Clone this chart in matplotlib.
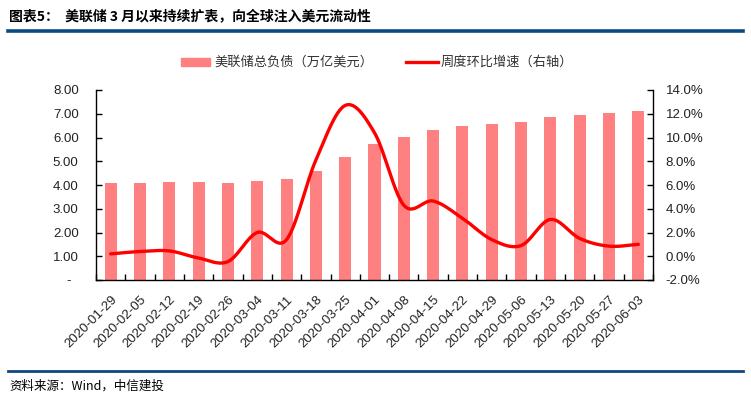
import numpy as np
import matplotlib
matplotlib.use("Agg")
import matplotlib.pyplot as plt
from matplotlib.lines import Line2D
from matplotlib.patches import Rectangle

plt.rcParams['font.family'] = ['Liberation Sans', 'Noto Sans CJK SC', 'DejaVu Sans']

dates = ["2020-01-29", "2020-02-05", "2020-02-12", "2020-02-19", "2020-02-26",
         "2020-03-04", "2020-03-11", "2020-03-18", "2020-03-25", "2020-04-01",
         "2020-04-08", "2020-04-15", "2020-04-22", "2020-04-29", "2020-05-06",
         "2020-05-13", "2020-05-20", "2020-05-27", "2020-06-03"]
total_liab = [4.07, 4.10, 4.12, 4.11, 4.08, 4.17, 4.24, 4.60, 5.19, 5.74,
              6.01, 6.30, 6.50, 6.58, 6.65, 6.86, 6.96, 7.02, 7.10]
wow_growth = [0.2, 0.4, 0.45, -0.15, -0.45, 2.0, 1.4, 8.1, 12.7, 10.4,
              4.3, 4.65, 3.2, 1.4, 0.9, 3.1, 1.5, 0.85, 1.0]
left_ticks = [0, 1, 2, 3, 4, 5, 6, 7, 8]
left_labels = ["-  ", "1.00", "2.00", "3.00", "4.00", "5.00", "6.00", "7.00", "8.00"]
right_ticks = [-2, 0, 2, 4, 6, 8, 10, 12, 14]
right_labels = ["-2.0%", "0.0%", "2.0%", "4.0%", "6.0%", "8.0%", "10.0%", "12.0%", "14.0%"]
title = "图表5：  美联储 3 月以来持续扩表，向全球注入美元流动性"
source = "资料来源：Wind，中信建投"
legend_bar = "美联储总负债（万亿美元）"
legend_line = "周度环比增速（右轴）"

W, H = 751, 403
fig = plt.figure(figsize=(W / 100, H / 100), dpi=100)

def fx(px):
    return px / W

def fy(py):
    return 1 - py / H

bar_color = "#FF8080"
line_color = "#FF0000"
text_color = "#222222"

ax = fig.add_axes([fx(96), fy(280), fx(653) - fx(96), fy(90) - fy(280)])
x = np.arange(len(dates))
ax.bar(x, total_liab, width=0.41, color=bar_color, zorder=2)
ax.set_xlim(-0.5, len(dates) - 0.5)
ax.set_ylim(0, 8)
ax.set_yticks(left_ticks)
ax.set_yticklabels(left_labels, fontsize=9.5, color=text_color)
ax.set_xticks(x)
ax.set_xticklabels(dates, rotation=45, ha='right', rotation_mode='anchor',
                   fontsize=9.5, color=text_color)
ax.set_xticks(np.arange(-0.5, len(dates) - 0.4, 1), minor=True)
ax.tick_params(axis='x', which='major', length=0, pad=10)
ax.tick_params(axis='x', which='minor', direction='in', length=4, width=1, color='black')
ax.tick_params(axis='y', direction='in', length=4, width=1, pad=12.5)
for s in ['top', 'right']:
    ax.spines[s].set_visible(False)
for s in ['left', 'bottom']:
    ax.spines[s].set_linewidth(1.0)
    ax.spines[s].set_color('black')

ax2 = ax.twinx()
ax2.set_ylim(-2, 14)
ax2.set_yticks(right_ticks)
ax2.set_yticklabels(right_labels, fontsize=9.5, color=text_color)
ax2.tick_params(axis='y', direction='in', length=4, width=1, pad=9)
for s in ['top', 'left', 'bottom']:
    ax2.spines[s].set_visible(False)
ax2.spines['right'].set_linewidth(1.0)

# Catmull-Rom smoothing (Excel-style smoothed line)
def catmull_rom(xs, ys, n=30):
    xs = np.asarray(xs, float)
    ys = np.asarray(ys, float)
    P = np.column_stack([xs, ys])
    P = np.vstack([2 * P[0] - P[1], P, 2 * P[-1] - P[-2]])
    out = []
    for i in range(1, len(P) - 2):
        p0, p1, p2, p3 = P[i - 1], P[i], P[i + 1], P[i + 2]
        t = np.linspace(0, 1, n, endpoint=False)[:, None]
        c1 = p1 + (p2 - p0) / 6
        c2 = p2 - (p3 - p1) / 6
        pts = ((1 - t) ** 3) * p1 + 3 * ((1 - t) ** 2) * t * c1 + 3 * (1 - t) * t ** 2 * c2 + t ** 3 * p2
        out.append(pts)
    out.append(P[-2][None, :])
    return np.vstack(out)

curve = catmull_rom(x, wow_growth)
ax2.plot(curve[:, 0], curve[:, 1], color=line_color, lw=2.4, solid_capstyle='round', zorder=3)

# Legend (manual)
fig.patches.append(Rectangle((fx(181), fy(65.5)), fx(210) - fx(181), fy(58.5) - fy(65.5),
                             transform=fig.transFigure, color=bar_color))
fig.text(fx(214), fy(62), legend_bar, fontsize=9.5, color="#333333", va='center', ha='left',
         family=['Noto Sans CJK SC'])
fig.lines.append(Line2D([fx(406), fx(438)], [fy(62), fy(62)], transform=fig.transFigure,
                        color=line_color, lw=2.4))
fig.text(fx(441), fy(62), legend_line, fontsize=9.5, color="#333333", va='center', ha='left',
         family=['Noto Sans CJK SC'])

# Title and rules
fig.text(fx(9), fy(16), title, fontsize=10, fontweight='bold', color='black', va='center',
         ha='left', family=['Noto Sans CJK SC'])
fig.lines.append(Line2D([fx(8), fx(743)], [fy(31), fy(31)], transform=fig.transFigure,
                        color="#0B4A80", lw=2.6))
fig.lines.append(Line2D([fx(8), fx(743)], [fy(371), fy(371)], transform=fig.transFigure,
                        color="#0B4A80", lw=2.0))
fig.text(fx(9), fy(386), source, fontsize=9, color='black', va='center', ha='left',
         family=['Noto Sans CJK SC'], style='italic')

fig.savefig("out.png", dpi=100)
